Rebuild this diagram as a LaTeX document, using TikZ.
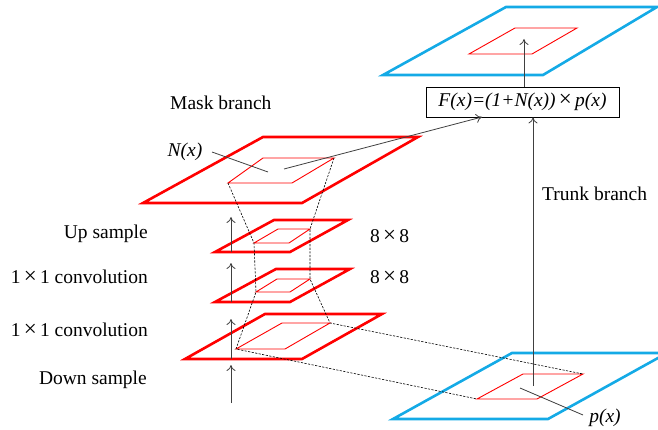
\documentclass[tikz,border=0pt]{standalone}
\usepackage{fontspec}
\setmainfont{Liberation Serif}
\usepackage{tikz}
\usetikzlibrary{positioning}
\usetikzlibrary{arrows.meta}

\definecolor{maskred}{RGB}{255,0,0}
\definecolor{trunkblue}{RGB}{20,170,230}

\newcommand{\bigtimes}{\,{\fontsize{23}{23}\selectfont ×}\,}

\begin{document}
\begin{tikzpicture}[x=1pt, y=-1pt, >={To[length=6pt,width=9pt]},
    every node/.style={font=\fontsize{19.5}{23}\selectfont, inner sep=0pt},
    outer/.style={draw=maskred, line width=2.6pt},
    inner/.style={draw=maskred, line width=0.9pt},
    trunk/.style={draw=trunkblue, line width=2.6pt},
    link/.style={draw=black, line width=0.6pt, dash pattern=on 2.2pt off 1.4pt},
    flow/.style={draw=black!75, line width=0.8pt, ->},
    pointer/.style={draw=black!75, line width=0.8pt}]

  \useasboundingbox (0,0) rectangle (658,430);

  % output map
  \draw[trunk] (506,7) -- (657,7) -- (543,75) -- (383,75) -- cycle;
  \draw[inner] (515,28) -- (577,28) -- (532,54) -- (469,54) -- cycle;
  \coordinate (out-in) at (524,39);

  % input map
  \draw[trunk] (512,353) -- (667,353) -- (548,419) -- (393,419) -- cycle;
  \coordinate (p-tr) at (583,374);
  \coordinate (p-bl) at (477,399);
  \draw[inner] (523,374) -- (p-tr) -- (537,399) -- (p-bl) -- cycle;
  \coordinate (p-mid) at (533,386);
  \coordinate (p-tip) at (520,388);

  % mask branch, bottom to top
  \draw[outer] (265,314) -- (382,314) -- (302,359) -- (185,359) -- cycle;
  \coordinate (d-tr) at (330,323);
  \coordinate (d-bl) at (236,349);
  \draw[inner] (282,323) -- (d-tr) -- (285,349) -- (d-bl) -- cycle;

  \draw[outer] (276,269) -- (350,269) -- (290,302) -- (215,302) -- cycle;
  \coordinate (c-tr) at (310,279);
  \coordinate (c-bl) at (256,292);
  \draw[inner] (277,279) -- (c-tr) -- (290,292) -- (c-bl) -- cycle;

  \draw[outer] (274,220) -- (348,220) -- (290,252) -- (215,252) -- cycle;
  \coordinate (u-tr) at (310,229);
  \coordinate (u-bl) at (254,243);
  \draw[inner] (278,229) -- (u-tr) -- (289,243) -- (u-bl) -- cycle;

  \draw[outer] (263,137) -- (418,137) -- (302,203) -- (143,203) -- cycle;
  \coordinate (n-tr) at (334,158);
  \coordinate (n-bl) at (228,183);
  \draw[inner] (263,158) -- (n-tr) -- (292,183) -- (n-bl) -- cycle;
  \coordinate (n-tip) at (268,172);
  \coordinate (n-out) at (284,169);

  \draw[link] (n-tr) -- (u-tr) -- (c-tr) -- (d-tr) -- (p-tr);
  \draw[link] (n-bl) -- (u-bl) -- (c-bl) -- (d-bl) -- (p-bl);

  \coordinate (s0) at (231,403);
  \coordinate (s1) at (231,365);
  \coordinate (s2) at (231,359);
  \coordinate (s3) at (231,319);
  \coordinate (s4) at (231,302);
  \coordinate (s5) at (231,263);
  \coordinate (s6) at (231,252);
  \coordinate (s7) at (231,217);

  \draw[flow] (s0) -- (s1);
  \draw[flow] (s2) -- (s3);
  \draw[flow] (s4) -- (s5);
  \draw[flow] (s6) -- (s7);

  \node[draw, line width=0.8pt, minimum width=193pt, minimum height=30pt] (fx) at (522.5,102)
    {\itshape F(x)=(1+N(x))\upshape\bigtimes\itshape p(x)};

  \draw[flow] (fx.north -| out-in) -- (out-in);
  \draw[flow] (p-mid) -- (fx.south -| p-mid);
  \draw[flow] (n-out) -- (482,117);

  \node[anchor=west] (mask) at (170,103) {Mask branch};
  \node (nx) at (185,152) {\itshape N(x)};
  \node[anchor=east] (up) at (148,234) {Up sample};
  \node[anchor=east] (conv2) at (148,277) {1\bigtimes1 convolution};
  \node[anchor=east] (conv1) at (148,330) {1\bigtimes1 convolution};
  \node[anchor=east] (down) at (147,380) {Down sample};
  \node[anchor=west] (size2) at (370,236) {8\bigtimes8};
  \node[anchor=west] (size1) at (370,277) {8\bigtimes8};
  \node[anchor=west] (trunkl) at (542,194) {Trunk branch};
  \node (px) at (605,418) {\itshape p(x)};

  \draw[pointer] (212,152) -- (n-tip);
  \draw[pointer] (p-tip) -- (583,415);
\end{tikzpicture}
\end{document}
